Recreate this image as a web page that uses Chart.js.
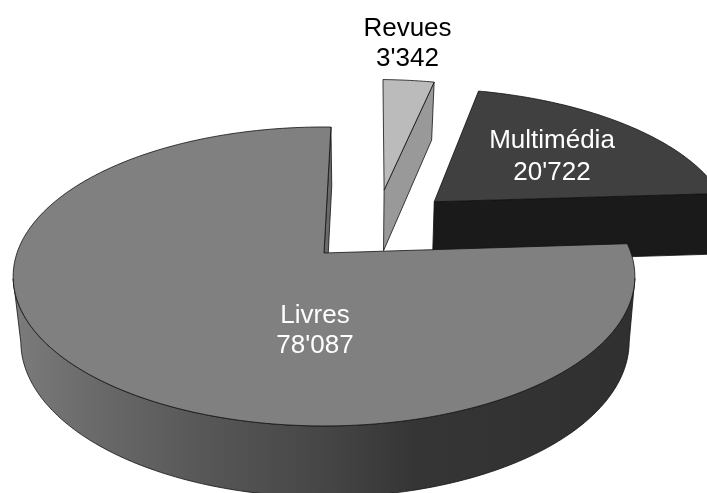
<!DOCTYPE html>
<html>
<head>
<meta charset="utf-8">
<title>Revues, Multimédia, Livres</title>
<script src="https://cdn.jsdelivr.net/npm/chart.js@4"></script>
<style>
    html, body { margin: 0; padding: 0; background: #fff; }
    canvas { display: block; }
</style>
</head>
<body>
<canvas id="pieChart" width="707" height="493"></canvas>
<script>
const categories = ['Revues', 'Multimédia', 'Livres'];
const values = [3342, 20722, 78087];

// slice styling and placement, same order as categories
const topColors = ['#bbbbbb', '#404040', '#808080'];
const cutColors = ['#999999', '#1a1a1a', '#6a6a6a'];
const textColors = ['#000000', '#ffffff', '#ffffff'];
const explode = [[0.21, -0.463], [0.38, -0.372], [0, 0]];
const labelSpots = [[407.5, 36, 66], [552, 148, 180], [315, 323, 353]];

// perspective of the top face and of the bottom of the pie
const topPlane = { x: 324, y: 253, c: 307, a: 145.8, p: -0.157 };
const lowPlane = { x: 325, y: 315.8, c: 300, a: 151.3, p: -0.165 };

function project(plane, u, v) {
    const w = 1 + plane.p * v;
    return [plane.x + plane.c * u / w, plane.y + plane.a * v / w];
}

function rimPoint(plane, shift, angle) {
    return project(plane, shift[0] + Math.cos(angle), shift[1] + Math.sin(angle));
}

function formatValue(n) {
    return String(n).replace(/\B(?=(\d{3})+$)/g, "'");
}

function addPoints(ctx, points) {
    points.forEach(function (pt, i) {
        if (i === 0) ctx.moveTo(pt[0], pt[1]);
        else ctx.lineTo(pt[0], pt[1]);
    });
}

function fillShape(ctx, points, fill) {
    ctx.beginPath();
    addPoints(ctx, points);
    ctx.closePath();
    ctx.fillStyle = fill;
    ctx.fill();
    ctx.lineWidth = 0.8;
    ctx.strokeStyle = '#111';
    ctx.stroke();
}

function rimPoints(plane, shift, a0, a1) {
    const pts = [];
    const steps = Math.max(2, Math.ceil(Math.abs(a1 - a0) * 60));
    for (let i = 0; i <= steps; i++) {
        pts.push(rimPoint(plane, shift, a0 + (a1 - a0) * i / steps));
    }
    return pts;
}

const pie3d = {
    id: 'pie3d',
    // the library's flat arcs are replaced by the projected ones below
    beforeDatasetDraw: function () {
        return false;
    },
    afterDatasetsDraw: function (chart) {
        const ctx = chart.ctx;
        const arcs = chart.getDatasetMeta(0).data;

        arcs.forEach(function (arc, i) {
            const shift = explode[i];
            const start = arc.startAngle;
            const end = arc.endAngle;

            // cut face along the end of the slice
            fillShape(ctx, [
                project(topPlane, shift[0], shift[1]),
                rimPoint(topPlane, shift, end),
                rimPoint(lowPlane, shift, end),
                project(lowPlane, shift[0], shift[1])
            ], cutColors[i]);

            // outer wall, only the part that faces us, silhouette to silhouette
            const a0 = Math.max(start, 0.17);
            const a1 = Math.min(end, 2.97);
            if (a1 > a0) {
                const wall = ctx.createLinearGradient(12, 0, 633, 0);
                wall.addColorStop(0, '#7c7c7c');
                wall.addColorStop(0.14, '#696969');
                wall.addColorStop(0.3, '#585858');
                wall.addColorStop(0.5, '#464646');
                wall.addColorStop(0.65, '#353535');
                wall.addColorStop(1, '#303030');
                const pts = rimPoints(topPlane, shift, a0, a1)
                    .concat(rimPoints(lowPlane, shift, a1, a0));
                fillShape(ctx, pts, wall);
            }

            // top face
            const face = [project(topPlane, shift[0], shift[1])]
                .concat(rimPoints(topPlane, shift, start, end));
            fillShape(ctx, face, arc.options.backgroundColor);
        });

        ctx.font = '26px "Liberation Sans", Arial, sans-serif';
        ctx.textAlign = 'center';
        ctx.textBaseline = 'alphabetic';
        categories.forEach(function (name, i) {
            const spot = labelSpots[i];
            ctx.fillStyle = textColors[i];
            ctx.fillText(name, spot[0], spot[1]);
            ctx.fillText(formatValue(values[i]), spot[0], spot[2]);
        });
    }
};

document.addEventListener("DOMContentLoaded", function () {
    new Chart(document.getElementById('pieChart'), {
        type: 'pie',
        data: {
            labels: categories,
            datasets: [{
                data: values,
                backgroundColor: topColors,
                borderWidth: 0
            }]
        },
        options: {
            responsive: false,
            animation: false,
            rotation: 1.5,
            plugins: {
                legend: { display: false },
                tooltip: { enabled: false }
            }
        },
        plugins: [pie3d]
    });
});
</script>
</body>
</html>
